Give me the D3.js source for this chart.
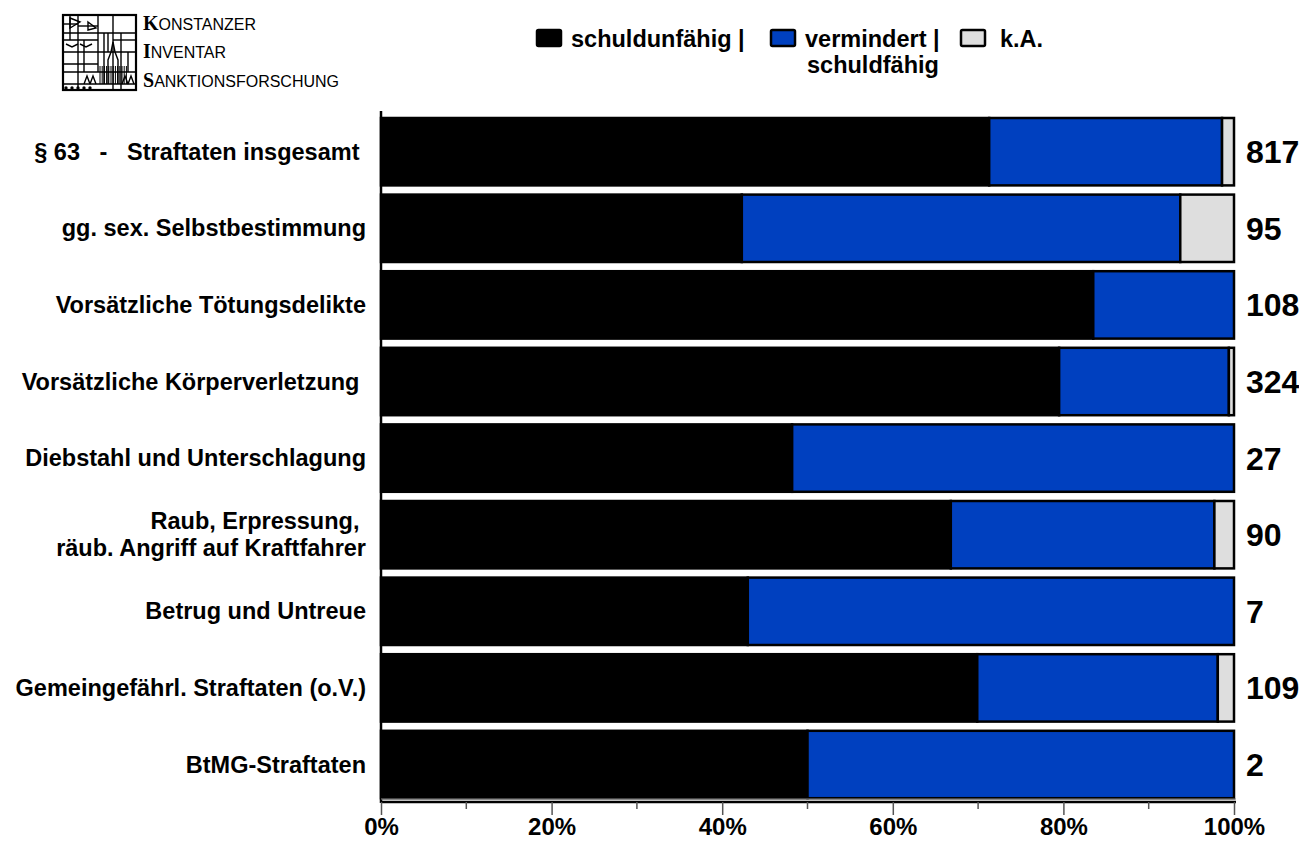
<!DOCTYPE html>
<html>
<head>
<meta charset="utf-8">
<script src="https://cdn.jsdelivr.net/npm/d3@7"></script>
<style>
  html, body { margin: 0; padding: 0; background: #fff; }
  svg { display: block; font-family: "Liberation Sans", Arial, sans-serif; }
</style>
</head>
<body>
<svg id="chart" width="1299" height="847"></svg>
<script>
// ---- data ----
const categories = [
  ["§ 63   -   Straftaten insgesamt "],
  ["gg. sex. Selbstbestimmung"],
  ["Vorsätzliche Tötungsdelikte"],
  ["Vorsätzliche Körperverletzung "],
  ["Diebstahl und Unterschlagung"],
  ["Raub, Erpressung, ", "räub. Angriff auf Kraftfahrer"],
  ["Betrug und Untreue"],
  ["Gemeingefährl. Straftaten (o.V.)"],
  ["BtMG-Straftaten"]
];
const schuldunfaehig = [71.3, 42.3, 83.5, 79.5, 48.2, 66.8, 43.0, 69.9, 50.0];
const vermindert     = [27.3, 51.4, 16.5, 19.9, 51.8, 30.9, 57.0, 28.2, 50.0];
const keineAngabe    = [1.4,  6.3,  0.0,  0.6,  0.0,  2.3,  0.0,  1.9,  0.0];
const counts = [817, 95, 108, 324, 27, 90, 7, 109, 2];
const tickValues = [0, 20, 40, 60, 80, 100];
const minorTicks = [10, 30, 50, 70, 90];
const seriesNames = ["schuldunfähig |", "vermindert |", "k.A."];
const seriesNames2 = ["", "schuldfähig", ""];
const colors = ["#000000", "#0040BF", "#DEDEDE"];

const svg = d3.select("#chart");
const ids = categories.map((c, i) => "c" + i);

const x = d3.scaleLinear().domain([0, 100]).range([381, 1234]);
const y = d3.scaleBand().domain(ids).range([113.4, 802.8]).paddingInner(0.12).paddingOuter(0.06);

const rows = ids.map((id, i) => ({
  id, i,
  segs: [
    { s: 0, v0: 0, v1: schuldunfaehig[i] },
    { s: 1, v0: schuldunfaehig[i], v1: schuldunfaehig[i] + vermindert[i] },
    { s: 2, v0: schuldunfaehig[i] + vermindert[i], v1: 100 }
  ].filter(d => d.v1 - d.v0 > 0.05 && (d.s !== 2 || keineAngabe[i] > 0))
}));

// bars
const g = svg.append("g");
rows.forEach(r => {
  g.selectAll(null).data(r.segs).enter().append("rect")
    .attr("x", d => x(d.v0))
    .attr("y", y(r.id))
    .attr("width", d => x(d.v1) - x(d.v0))
    .attr("height", y.bandwidth())
    .attr("fill", d => colors[d.s])
    .attr("stroke", "#000")
    .attr("stroke-width", 2.5);
});

// left axis line
svg.append("line").attr("x1", 381).attr("x2", 381).attr("y1", 111).attr("y2", 803)
  .attr("stroke", "#000").attr("stroke-width", 2.5);

// bottom axis
svg.append("line").attr("x1", 381).attr("x2", 1236).attr("y1", 799).attr("y2", 799)
  .attr("stroke", "#888").attr("stroke-width", 1);
const axis = d3.axisBottom(x).tickValues(tickValues).tickFormat(d => d + "%").tickSize(13).tickPadding(3);
const ax = svg.append("g").attr("transform", "translate(0,802)").call(axis);
ax.select(".domain").attr("stroke", "#000").attr("stroke-width", 2.5).attr("d", "M381,0H1236");
ax.selectAll(".tick line").attr("stroke", "#555").attr("stroke-width", 1.5);
ax.selectAll(".tick text").attr("fill", "#000").attr("font-size", 24).attr("font-weight", "bold")
  .attr("font-family", "Liberation Sans, Arial, sans-serif");
svg.append("g").attr("transform", "translate(0,802)").selectAll("line").data(minorTicks).enter().append("line")
  .attr("x1", d => x(d)).attr("x2", d => x(d)).attr("y1", 0).attr("y2", 7)
  .attr("stroke", "#555").attr("stroke-width", 1.5);

// category labels
rows.forEach(r => {
  const lines = categories[r.i];
  const cy = y(r.id) + y.bandwidth() / 2;
  const t = svg.append("text").attr("text-anchor", "end")
    .attr("font-size", 23.5).attr("font-weight", "bold").attr("fill", "#000")
    .attr("xml:space", "preserve").style("white-space", "pre");
  lines.forEach((ln, k) => {
    t.append("tspan").attr("x", 366)
      .attr("y", cy + 8 + (k - (lines.length - 1) / 2) * 27)
      .text(ln);
  });
});

// counts
svg.selectAll(".cnt").data(rows).enter().append("text")
  .attr("x", 1246).attr("y", d => y(d.id) + y.bandwidth() / 2 + 11.5)
  .attr("font-size", 32).attr("font-weight", "bold").attr("fill", "#000")
  .text(d => counts[d.i]);

// legend
const legX = [537, 771, 961];
const legTX = [571, 805, 1000];
const lg = svg.append("g");
seriesNames.forEach((n, k) => {
  lg.append("rect").attr("x", legX[k]).attr("y", 30).attr("width", 24).attr("height", 16)
    .attr("rx", 1.5)
    .attr("fill", colors[k]).attr("stroke", "#000").attr("stroke-width", 2.5);
  lg.append("text").attr("x", legTX[k]).attr("y", 47)
    .attr("font-size", 23.5).attr("font-weight", "bold").attr("fill", "#000").text(n);
  if (seriesNames2[k]) {
    lg.append("text").attr("x", legTX[k] + 2).attr("y", 73)
      .attr("font-size", 23.5).attr("font-weight", "bold").attr("fill", "#000").text(seriesNames2[k]);
  }
});

// logo
const logo = svg.append("g").attr("fill", "none").attr("stroke", "#000").attr("stroke-width", 1.4);
logo.append("rect").attr("x", 63).attr("y", 15).attr("width", 73).attr("height", 75).attr("stroke-width", 2.2);
[[78, 15, 78, 90], [98, 15, 98, 72], [113, 15, 113, 90], [121, 33, 121, 90], [63, 33, 136, 33],
 [63, 40, 98, 40], [63, 52, 136, 52], [63, 64, 98, 64], [63, 72, 136, 72], [63, 84, 136, 84],
 [70, 15, 70, 40], [84, 40, 84, 72], [104, 33, 104, 84], [108, 33, 108, 52], [63, 24, 78, 24],
 [78, 26, 98, 26], [113, 40, 136, 40], [128, 52, 128, 72]].forEach(l => {
  logo.append("line").attr("x1", l[0]).attr("y1", l[1]).attr("x2", l[2]).attr("y2", l[3]);
});
// cathedral
logo.append("path").attr("d", "M108,84 V60 L111,52 L113,42 L115,52 L118,60 V84");
for (let xx = 100; xx <= 128; xx += 2.2) {
  logo.append("line").attr("x1", xx).attr("x2", xx).attr("y1", 66).attr("y2", 84).attr("stroke-width", 1);
}
logo.append("path").attr("d", "M84,84 L87,76 L90,84 M90,84 L93,76 L96,84 M122,84 L125,76 L128,84 M128,84 L131,76 L134,84");
logo.append("path").attr("d", "M70,18 L80,22 L70,28 Z M88,22 L96,28 L88,30 Z M66,44 L72,47 L78,44 M80,44 L86,47 L92,44");
[[66, 88], [72, 88], [78, 88], [84, 88], [90, 88]].forEach(p => {
  logo.append("circle").attr("cx", p[0]).attr("cy", p[1]).attr("r", 1).attr("fill", "#000");
});

const lt = svg.append("g").attr("fill", "#000");
[["K", "ONSTANZER", 30], ["I", "NVENTAR", 58], ["S", "ANKTIONSFORSCHUNG", 87]].forEach(w => {
  const t = lt.append("text").attr("x", 143).attr("y", w[2]);
  t.append("tspan").attr("font-size", 20).attr("font-weight", "bold").attr("font-family", "Liberation Serif, serif").text(w[0]);
  t.append("tspan").attr("font-size", 16).attr("font-family", "Liberation Sans, Arial, sans-serif").text(w[1]);
});
</script>
</body>
</html>
